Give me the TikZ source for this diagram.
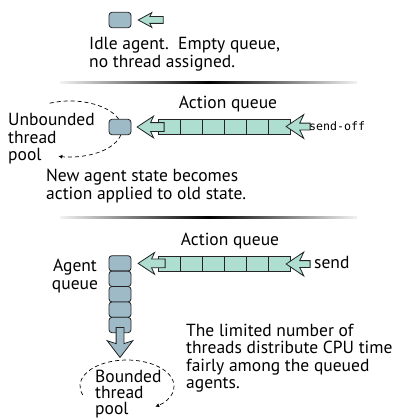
\documentclass[tikz,border=0pt]{standalone}
\usepackage{fontspec}
\setmainfont{PT Sans}
\setmonofont{DejaVu Sans Mono}
\usetikzlibrary{shapes.arrows,arrows.meta,positioning}
\definecolor{agentc}{RGB}{158,186,199}
\definecolor{queuec}{RGB}{174,222,207}
\definecolor{linec}{RGB}{35,35,35}

\begin{document}
\begin{tikzpicture}[x=1pt,y=-1pt,
    agent/.style={rounded corners=3pt,draw=linec,fill=agentc,line width=0.8pt,minimum width=22pt,minimum height=15.4pt,inner sep=0pt},
    cell/.style={draw=linec,fill=queuec,line width=0.8pt,minimum width=22pt,minimum height=15pt,inner sep=0pt},
    feed/.style={single arrow,draw=linec,fill=queuec,line width=0.8pt,minimum width=0pt,shape border rotate=180,anchor=tip},
    txt/.style={font=\fontsize{17.5}{17.5}\selectfont,align=left,inner sep=0pt},
    code/.style={font=\fontsize{11.6}{14}\ttfamily,inner sep=0pt},
    pool/.style={dash pattern=on 4pt off 3pt,line width=0.7pt,-{Latex[length=4pt,width=4pt]}},
    sepline/.style={left color=gray!10,right color=gray!10,middle color=black} ]
    \useasboundingbox (0,0) rectangle (398,420);

    % idle agent
    \node [agent] (idle) at (120,20) {};
    \node [feed,minimum height=25pt,inner sep=3pt,single arrow head extend=4pt,
           single arrow tip angle=57,single arrow head indent=2pt] (idle in) at ([xshift=6pt]idle.east) {};
    \node [txt,anchor=west] (idle txt) at (89,54) {Idle agent.\ \ Empty queue,\\no thread assigned.};

    \shade [sepline] (60,81) rectangle (357,83);

    % send-off, unbounded pool
    \coordinate (ub start) at (49.7,103.2);
    \draw [pool] (ub start) arc [start angle=-113,end angle=103,x radius=52,y radius=28];
    \node [agent] (busy) at (120,127) {};
    \foreach \i in {1,...,6}
        \node [cell] (mq\i) at ({147+22*\i},126.5) {};
    \node [feed,minimum height=27pt,inner sep=4pt,single arrow head extend=6.5pt,
           single arrow tip angle=67,single arrow head indent=3pt] (mq out) at ([xshift=5pt]busy.east) {};
    \node [feed,minimum height=24pt,inner sep=3pt,single arrow head extend=8.5pt,
           single arrow tip angle=68,single arrow head indent=4pt] (mq in) at ([xshift=-5pt]mq6.east) {};
    \node [txt] (mq label) at (228,104) {Action queue};
    \node [code,anchor=west] (sendoff) at (309,126) {send-off};
    \node [txt,anchor=west] (unb) at (8,139) {Unbounded\\thread\\pool};
    \node [txt,anchor=west] (new state) at (46,186) {New agent state becomes\\action applied to old state.};

    \shade [sepline] (60,216) rectangle (357,218);

    % send, bounded pool
    \foreach \i in {1,...,5}
        \node [agent] (ag\i) at (120,{248+15.4*\i}) {};
    \node [single arrow,draw=linec,fill=agentc,line width=0.8pt,minimum width=0pt,anchor=tip,
           shape border rotate=270,minimum height=30pt,inner sep=3.5pt,single arrow head extend=9pt,
           single arrow tip angle=75,single arrow head indent=3pt] (ag out) at ([yshift=-25pt]ag5.south) {};
    \foreach \i in {1,...,6}
        \node [cell] (bq\i) at ({147+22*\i},264) {};
    \node [feed,minimum height=27pt,inner sep=4pt,single arrow head extend=6.5pt,
           single arrow tip angle=67,single arrow head indent=3pt] (bq out) at ([xshift=6pt]ag1.east) {};
    \node [feed,minimum height=24pt,inner sep=3pt,single arrow head extend=8.5pt,
           single arrow tip angle=68,single arrow head indent=4pt] (bq in) at ([xshift=-5pt]bq6.east) {};
    \node [txt] (bq label) at (230,241) {Action queue};
    \node [txt,anchor=west] (send) at (314,262) {send};
    \node [txt,align=center] (agq) at (75,276) {Agent\\queue};
    \coordinate (bd start) at (82.8,394.9);
    \draw [pool] (bd start) arc [start angle=160,end angle=413,x radius=47,y radius=26];
    \node [txt,anchor=west,font=\fontsize{17.5}{16}\selectfont] (bounded) at (95,394) {Bounded\\thread\\pool};
    \node [txt,anchor=west] (limited) at (186,358) {The limited number of\\threads distribute CPU time\\fairly among the queued\\agents.};
\end{tikzpicture}
\end{document}
